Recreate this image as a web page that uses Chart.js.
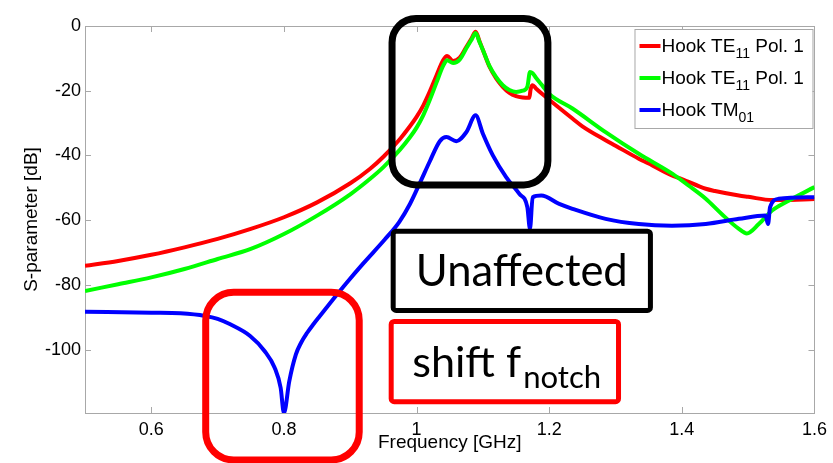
<!DOCTYPE html>
<html>
<head>
<meta charset="utf-8">
<script src="https://cdn.jsdelivr.net/npm/chart.js@4.4.1/dist/chart.umd.min.js"></script>
<style>
  body { margin: 0; background: #fff; }
  #wrap { width: 833px; height: 463px; }
</style>
</head>
<body>
<div id="wrap"><canvas id="sparam" width="833" height="463"></canvas></div>
<script>
// S-parameter of the hook coupler, frequency in GHz, magnitude in dB
var freqTE11a = [0.50, 0.55, 0.60, 0.65, 0.70, 0.75, 0.80, 0.85, 0.90, 0.93, 0.95, 0.975, 0.99, 1.00, 1.01, 1.02, 1.03, 1.04, 1.046, 1.055, 1.065, 1.075, 1.083, 1.089, 1.095, 1.10, 1.11, 1.12, 1.13, 1.14, 1.15, 1.16, 1.17, 1.172, 1.175, 1.18, 1.19, 1.20, 1.235, 1.25, 1.285, 1.30, 1.335, 1.35, 1.385, 1.40, 1.436, 1.45, 1.486, 1.50, 1.536, 1.55, 1.60]
var dbTE11a = [-74.1, -72.6, -70.7, -68.4, -65.8, -62.7, -59.1, -54.5, -48.6, -44.1, -40.4, -34.9, -31.0, -28.1, -24.6, -20.2, -15.3, -10.6, -9.3, -10.8, -9.8, -6.5, -3.8, -1.8, -4.8, -7.4, -12.6, -16.2, -18.8, -20.7, -21.7, -22.1, -22.2, -19.5, -18.3, -19.3, -21.1, -22.8, -28.6, -31.0, -35.3, -37.0, -41.0, -42.5, -46.2, -47.3, -50.3, -51.0, -52.4, -52.8, -53.8, -53.8, -53.5]

var freqTE11b = [0.50, 0.55, 0.60, 0.65, 0.70, 0.75, 0.80, 0.85, 0.90, 0.93, 0.95, 0.975, 0.99, 1.00, 1.01, 1.02, 1.03, 1.04, 1.046, 1.055, 1.065, 1.075, 1.083, 1.089, 1.095, 1.10, 1.11, 1.12, 1.13, 1.14, 1.15, 1.16, 1.167, 1.171, 1.175, 1.18, 1.19, 1.20, 1.235, 1.285, 1.335, 1.386, 1.41, 1.436, 1.46, 1.486, 1.498, 1.516, 1.536, 1.561, 1.60]
var dbTE11b = [-81.9, -79.8, -77.7, -75.1, -72.0, -68.9, -64.3, -58.6, -52.0, -47.2, -43.6, -38.2, -34.4, -31.4, -27.6, -22.8, -17.5, -12.3, -10.6, -11.4, -10.4, -6.9, -4.2, -2.2, -5.0, -7.4, -12.4, -15.8, -18.3, -19.8, -20.4, -20.0, -18.8, -14.2, -14.6, -16.0, -18.5, -21.0, -25.5, -32.8, -39.5, -45.7, -49.3, -53.4, -58.1, -62.7, -64.1, -61.2, -57.0, -54.0, -49.8]

var freqTM01 = [0.50, 0.60, 0.644, 0.681, 0.70, 0.719, 0.749, 0.771, 0.786, 0.795, 0.80, 0.808, 0.818, 0.826, 0.835, 0.845, 0.853, 0.876, 0.894, 0.92, 0.952, 0.974, 0.99, 1.005, 1.02, 1.035, 1.045, 1.06, 1.075, 1.089, 1.10, 1.115, 1.135, 1.155, 1.167, 1.171, 1.175, 1.188, 1.215, 1.235, 1.285, 1.335, 1.385, 1.436, 1.486, 1.526, 1.53, 1.533, 1.546, 1.60]
var dbTM01 = [-88.3, -88.6, -88.8, -89.6, -90.5, -92.2, -95.8, -100.5, -105.6, -111.8, -119.6, -109.8, -101.5, -97.8, -94.8, -92.0, -89.9, -84.0, -79.5, -73.3, -66.0, -60.5, -55.0, -48.5, -41.8, -35.6, -34.3, -35.6, -32.8, -27.6, -33.3, -40.0, -46.7, -51.9, -56.0, -62.7, -52.9, -52.4, -55.0, -56.5, -59.6, -61.2, -61.7, -61.2, -59.6, -58.6, -61.2, -56.0, -53.4, -52.9]

var seriesLabels = ['Hook TE_{11} Pol. 1', 'Hook TE_{11} Pol. 1', 'Hook TM_{01}']
var seriesColors = ['#ff0000', '#00ff00', '#0000ff']

var freqTicks = [0.6, 0.8, 1, 1.2, 1.4, 1.6]
var dbTicks = [-100, -80, -60, -40, -20, 0]

var axisFont = { family: 'Liberation Sans, Arial, sans-serif', size: 18 }
var titleFont = { family: 'Liberation Sans, Arial, sans-serif', size: 19 }
var noteFont = 'Lato, Carlito, sans-serif'

var toPoints = function(xs, ys){
  return xs.map(function(x, i){ return { x: x, y: ys[i] } })
}

// callout boxes, corners given in axis units
var callouts = [
  { x: [0.963, 1.198], y: [2.3, -49.1], radius: 24, lw: 7, color: '#000000' },
  { x: [0.682, 0.9135], y: [-82.3, -134.1], radius: 28, lw: 7, color: '#ff0000' },
  { x: [0.9647, 1.3526], y: [-63.4, -87.9], radius: 3, lw: 5, color: '#000000', text: 'Unaffected', textWidth: 212 },
  { x: [0.9617, 1.3045], y: [-91.3, -116.1], radius: 3, lw: 5, color: '#ff0000', text: 'shift f', sub: 'notch', textWidth: 109 }
]

// label text with _{..} subscripts, drawn piece by piece
var drawRich = function(ctx, str, x, y, size, family){
  var parts = str.split(/_\{([^}]*)\}/)
  parts.forEach(function(p, i){
    var sub = i % 2 === 1
    ctx.font = (sub ? Math.round(size * 0.75) : size) + 'px ' + family
    ctx.fillText(p, x, sub ? y + size * 0.3 : y)
    x += ctx.measureText(p).width
  })
}

var frame = {
  id: 'frame',
  beforeDatasetsDraw: function(chart){
    var ctx = chart.ctx, a = chart.chartArea
    var xs = chart.scales.x, ys = chart.scales.y
    ctx.save()
    ctx.strokeStyle = '#a8a8a8'
    ctx.lineWidth = 1
    ctx.strokeRect(Math.round(a.left) + 0.5, Math.round(a.top) + 0.5, Math.round(a.width), Math.round(a.height))
    ctx.beginPath()
    xs.ticks.forEach(function(t){
      var px = Math.round(xs.getPixelForValue(t.value)) + 0.5
      ctx.moveTo(px, a.bottom); ctx.lineTo(px, a.bottom - 6)
      ctx.moveTo(px, a.top); ctx.lineTo(px, a.top + 6)
    })
    ys.ticks.forEach(function(t){
      var py = Math.round(ys.getPixelForValue(t.value)) + 0.5
      ctx.moveTo(a.left, py); ctx.lineTo(a.left + 6, py)
      ctx.moveTo(a.right, py); ctx.lineTo(a.right - 6, py)
    })
    ctx.stroke()
    ctx.restore()
  }
}

var notes = {
  id: 'notes',
  afterDraw: function(chart){
    var ctx = chart.ctx, a = chart.chartArea
    var xs = chart.scales.x, ys = chart.scales.y
    ctx.save()

    // legend
    var lx = a.right - 180, ly = a.top + 3, lw = 178, lh = 99
    ctx.fillStyle = '#fff'
    ctx.fillRect(lx, ly, lw, lh)
    ctx.strokeStyle = '#a8a8a8'
    ctx.lineWidth = 1
    ctx.strokeRect(lx + 0.5, ly + 0.5, lw, lh)
    ctx.textBaseline = 'alphabetic'
    seriesLabels.forEach(function(label, i){
      var cy = ly + 17 + i * 32
      ctx.strokeStyle = seriesColors[i]
      ctx.lineWidth = 4
      ctx.beginPath(); ctx.moveTo(lx + 5, cy); ctx.lineTo(lx + 26, cy); ctx.stroke()
      ctx.fillStyle = '#000'
      drawRich(ctx, label, lx + 27, cy + 6, 19, axisFont.family)
    })

    callouts.forEach(function(c){
      var x0 = xs.getPixelForValue(c.x[0]), x1 = xs.getPixelForValue(c.x[1])
      var y0 = ys.getPixelForValue(c.y[0]), y1 = ys.getPixelForValue(c.y[1])
      ctx.beginPath()
      ctx.roundRect(x0, y0, x1 - x0, y1 - y0, c.radius)
      if (c.text) { ctx.fillStyle = '#fff'; ctx.fill() }
      ctx.strokeStyle = c.color
      ctx.lineWidth = c.lw
      ctx.stroke()
      if (!c.text) return
      ctx.fillStyle = '#000'
      ctx.font = '40px ' + noteFont
      var size = 40 * c.textWidth / ctx.measureText(c.text).width
      ctx.font = size + 'px ' + noteFont
      var cy = (y0 + y1) / 2
      if (c.sub) {
        var tx = x0 + 21
        ctx.textAlign = 'left'
        ctx.fillText(c.text, tx, cy + 15)
        tx += ctx.measureText(c.text).width + 2
        ctx.font = (size * 0.72) + 'px ' + noteFont
        ctx.fillText(c.sub, tx, cy + 26)
      } else {
        ctx.textAlign = 'center'
        ctx.fillText(c.text, (x0 + x1) / 2, cy + 15)
      }
      ctx.textAlign = 'left'
    })
    ctx.restore()
  }
}

var ctx = document.getElementById('sparam')

var chartSparam = new Chart(ctx, {
  type: 'line',
  data: {
    datasets: [
      { label: seriesLabels[0], data: toPoints(freqTE11a, dbTE11a), borderColor: seriesColors[0], order: 3 },
      { label: seriesLabels[1], data: toPoints(freqTE11b, dbTE11b), borderColor: seriesColors[1], order: 2 },
      { label: seriesLabels[2], data: toPoints(freqTM01, dbTM01), borderColor: seriesColors[2], order: 1 }
    ]
  },
  options: {
    responsive: false,
    animation: false,
    events: [],
    layout: { padding: { top: 26, right: 18, left: 0, bottom: 0 } },
    elements: {
      point: { radius: 0 },
      line: { borderWidth: 4, cubicInterpolationMode: 'monotone', fill: false }
    },
    plugins: {
      legend: { display: false },
      tooltip: { enabled: false }
    },
    scales: {
      x: {
        type: 'linear',
        min: 0.5,
        max: 1.6,
        afterBuildTicks: function(s){ s.ticks = freqTicks.map(function(v){ return { value: v } }) },
        afterFit: function(s){ s.height = 50 },
        grid: { display: false, drawTicks: false },
        border: { display: false },
        ticks: { padding: 6, color: '#000', font: axisFont, maxRotation: 0, callback: function(v){ return String(v) } },
        title: { display: true, text: 'Frequency [GHz]', color: '#000', font: titleFont, padding: { top: 0, bottom: 9 } }
      },
      y: {
        min: -119.6,
        max: 0,
        afterBuildTicks: function(s){ s.ticks = dbTicks.map(function(v){ return { value: v } }) },
        afterFit: function(s){ s.width = 85 },
        grid: { display: false, drawTicks: false },
        border: { display: false },
        ticks: { padding: 4, color: '#000', font: axisFont, callback: function(v){ return String(v) } },
        title: { display: true, text: 'S-parameter [dB]', color: '#000', font: titleFont, padding: { top: 20, bottom: 0 } }
      }
    }
  },
  plugins: [frame, notes]
})
</script>
</body>
</html>
